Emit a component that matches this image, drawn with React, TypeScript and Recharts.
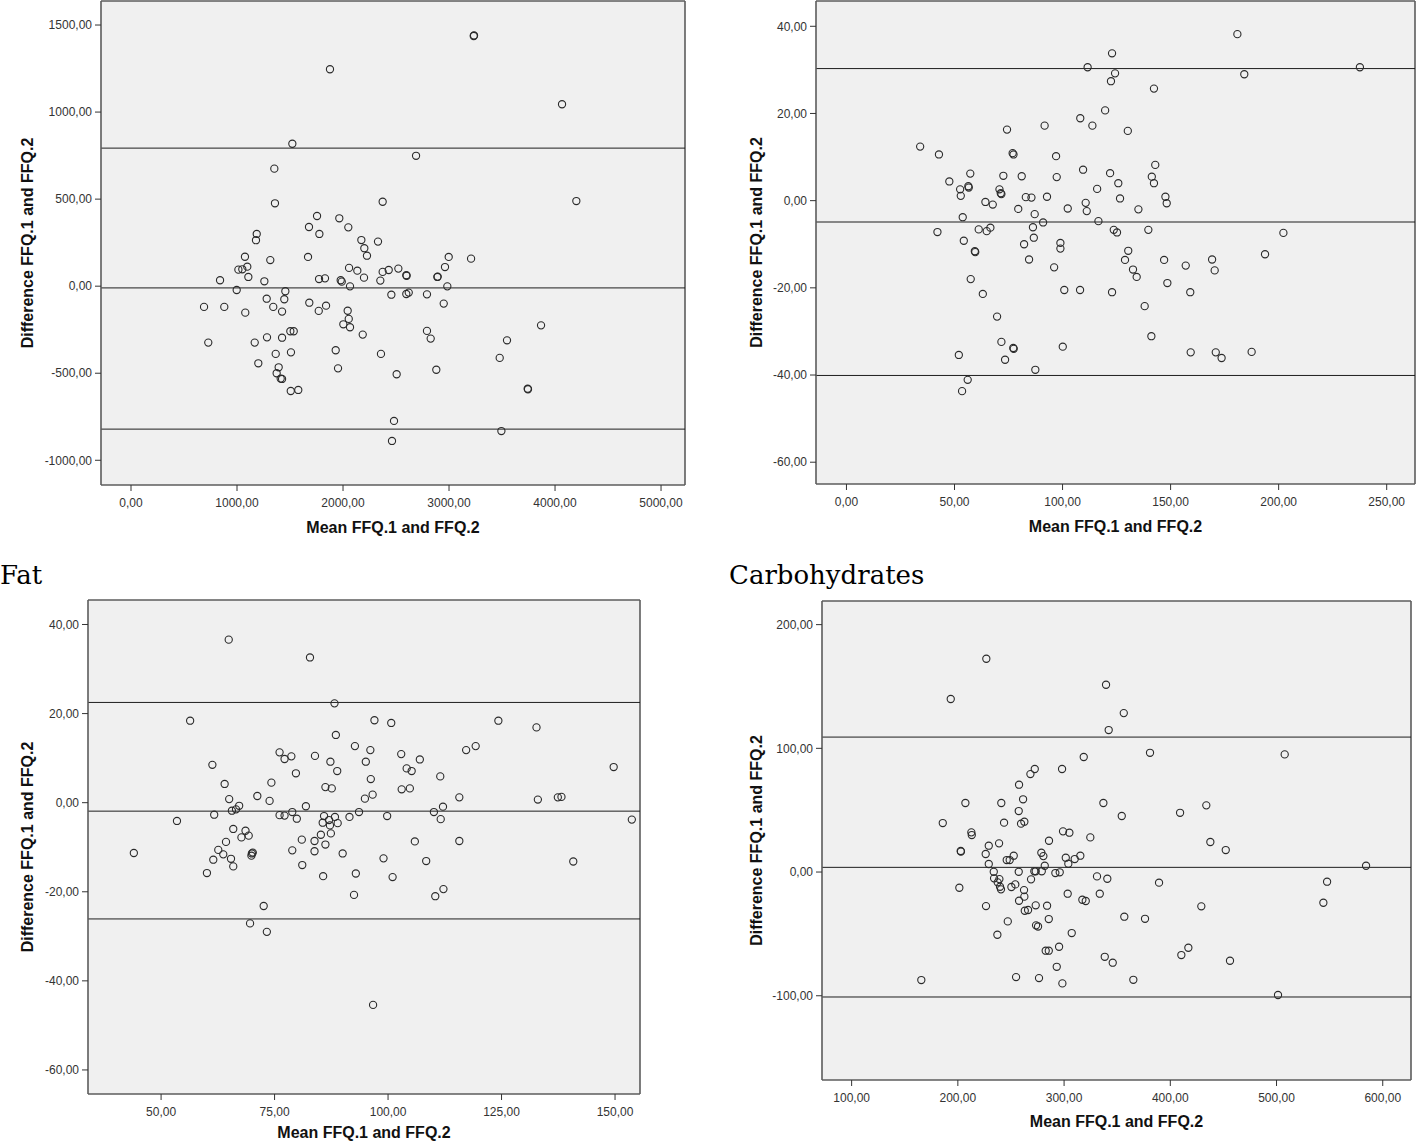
import React from "react";
import { ScatterChart, Scatter, XAxis, YAxis, CartesianGrid, ReferenceLine } from "recharts";

const axisFont = "'Liberation Sans', Arial, sans-serif";

// Energy (top left): [mean, difference]
const energyPoints: [number, number][] = [
  [1877, 1246], [1522, 818], [1352, 675], [1358, 476], [2374, 485], [1755, 403], [1679, 340], [1777, 300],
  [1965, 390], [2050, 338], [1186, 300], [1179, 264], [2173, 265], [2201, 218], [2226, 175], [2330, 256],
  [1075, 169], [1314, 150], [1670, 168], [1013, 95], [1050, 97], [1097, 112], [1107, 53], [840, 34],
  [1258, 28], [1774, 41], [1830, 45], [1978, 34], [1988, 26], [2057, 105], [2135, 89], [2198, 49],
  [2352, 32], [2374, 82], [2431, 93], [2522, 101], [997, -22], [1456, -29], [1446, -75], [1280, -72],
  [2066, -1], [2456, -49], [689, -119], [880, -119], [1078, -152], [1342, -119], [1425, -146], [1682, -95],
  [1771, -142], [1840, -112], [2044, -141], [2054, -188], [2003, -219], [2066, -236], [729, -324], [1167, -324],
  [1283, -294], [1425, -296], [1503, -259], [1535, -259], [2186, -278], [1365, -389], [1509, -380], [1201, -443],
  [1393, -466], [1374, -500], [1412, -531], [1425, -533], [1931, -368], [1953, -472], [2358, -389], [2506, -506],
  [1507, -602], [1578, -596], [2481, -774], [2462, -889],
  [3233, 1437], [3236, 1440], [4066, 1045], [2689, 749], [4201, 489], [2997, 168], [3208, 158], [2962, 110],
  [2597, 63], [2600, 60], [2890, 53], [2893, 55], [2984, -1], [2597, -45], [2620, -37], [2792, -47],
  [2950, -100], [2792, -257], [2827, -301], [3868, -225], [3547, -311], [3478, -412], [2880, -480], [3742, -589],
  [3745, -592], [3494, -832],
];
const energyLimits = [793, -10, -821];
const energyXTicks = [0, 1000, 2000, 3000, 4000, 5000];
const energyYTicks = [-1000, -500, 0, 500, 1000, 1500];

// Protein (top right)
const proteinPoints: [number, number][] = [
  [111.6, 30.6], [34.1, 12.4], [42.8, 10.6], [74.3, 16.3], [91.7, 17.2], [108.2, 18.9], [76.9, 10.9], [77.3, 10.6],
  [97.0, 10.2], [109.5, 7.1], [47.6, 4.4], [57.3, 6.2], [52.6, 2.6], [56.4, 3.3], [56.6, 3.0], [52.9, 1.1],
  [72.6, 5.7], [81.1, 5.6], [97.3, 5.4], [70.8, 2.6], [71.4, 1.7], [71.7, 1.5], [64.3, -0.3], [67.7, -0.9],
  [83.0, 0.8], [85.6, 0.7], [92.8, 0.9], [79.5, -1.9], [87.1, -3.1], [102.4, -1.8], [110.7, -0.5], [111.2, -2.4],
  [53.8, -3.8], [91.0, -5.0], [42.1, -7.2], [61.2, -6.6], [64.9, -7.0], [66.6, -6.2], [86.3, -6.1], [86.7, -8.5],
  [54.3, -9.2], [59.4, -11.6], [59.6, -11.8], [82.2, -10.0], [99.0, -9.7], [99.0, -11.0], [84.5, -13.5], [96.1, -15.3],
  [57.5, -18.0], [63.1, -21.4], [100.8, -20.5], [108.1, -20.5], [69.7, -26.6], [71.7, -32.4], [77.2, -33.8], [77.4, -34.0],
  [52.0, -35.4], [73.4, -36.5], [100.1, -33.5], [87.4, -38.8], [56.1, -41.1], [53.5, -43.7],
  [180.9, 38.2], [122.9, 33.8], [124.3, 29.2], [122.4, 27.4], [184.1, 29.0], [142.3, 25.7], [119.7, 20.7], [113.8, 17.2],
  [130.2, 16.0], [142.9, 8.2], [141.3, 5.5], [142.3, 4.0], [122.0, 6.3], [125.8, 4.0], [116.0, 2.7], [126.6, 0.5],
  [147.6, 0.9], [148.2, -0.6], [135.1, -2.0], [116.6, -4.7], [123.7, -6.7], [125.2, -7.3], [139.7, -6.7], [202.2, -7.4],
  [130.4, -11.5], [128.9, -13.6], [132.6, -15.8], [134.3, -17.5], [147.0, -13.6], [157.0, -14.9], [169.2, -13.5], [170.4, -16.0],
  [193.7, -12.3], [148.5, -18.9], [122.9, -21.0], [159.1, -21.0], [138.0, -24.2], [141.1, -31.1], [159.3, -34.8], [170.9, -34.8],
  [173.6, -36.1], [187.5, -34.7], [237.6, 30.6],
];
const proteinLimits = [30.3, -4.9, -40.1];
const proteinXTicks = [0, 50, 100, 150, 200, 250];
const proteinYTicks = [-60, -40, -20, 0, 20, 40];

// Fat (bottom left)
const fatPoints: [number, number][] = [
  [64.9, 36.6], [82.8, 32.6], [88.2, 22.3], [56.4, 18.4], [97.0, 18.5], [88.5, 15.2], [92.7, 12.7], [96.1, 11.8],
  [95.1, 9.2], [96.2, 5.3], [96.6, 1.8], [94.9, 0.9], [61.3, 8.5], [76.1, 11.3], [77.2, 9.8], [78.7, 10.4],
  [83.9, 10.5], [87.3, 9.2], [88.8, 7.1], [79.7, 6.6], [64.0, 4.2], [74.3, 4.5], [86.2, 3.5], [87.6, 3.2],
  [65.0, 0.8], [71.2, 1.5], [73.9, 0.4], [67.2, -0.7], [66.5, -1.5], [65.6, -1.8], [81.9, -0.8], [61.7, -2.7],
  [76.1, -2.8], [77.2, -2.9], [78.9, -2.1], [79.9, -3.6], [85.9, -3.0], [88.3, -3.2], [91.5, -3.2], [93.6, -2.1],
  [53.5, -4.1], [85.6, -4.5], [87.0, -3.9], [87.2, -5.1], [88.9, -4.6], [65.9, -5.9], [68.6, -6.3], [67.7, -7.8],
  [69.3, -7.4], [85.2, -7.2], [87.4, -6.9], [64.3, -8.8], [81.0, -8.3], [83.8, -8.6], [86.2, -9.4], [62.6, -10.6],
  [63.7, -11.6], [70.0, -11.4], [70.2, -11.2], [69.9, -11.9], [78.9, -10.7], [83.8, -10.9], [90.0, -11.4], [61.5, -12.8],
  [65.4, -12.6], [65.9, -14.3], [60.1, -15.8], [81.1, -14.0], [85.7, -16.5], [92.9, -15.9], [92.5, -20.7], [72.6, -23.2],
  [69.6, -27.1], [73.3, -29.0], [96.7, -45.4], [44.0, -11.3],
  [100.7, 17.9], [124.3, 18.4], [132.7, 16.9], [102.9, 10.9], [107.0, 9.7], [104.1, 7.7], [105.2, 7.1], [117.2, 11.8],
  [119.3, 12.7], [149.7, 8.0], [111.5, 5.9], [103.0, 3.0], [104.8, 3.2], [115.7, 1.2], [133.0, 0.7], [137.4, 1.2],
  [138.2, 1.3], [112.1, -0.9], [110.1, -2.1], [111.6, -3.7], [99.8, -3.0], [153.7, -3.8], [105.9, -8.7], [115.7, -8.6],
  [99.0, -12.5], [108.4, -13.1], [140.8, -13.2], [101.0, -16.7], [112.2, -19.4], [110.4, -21.0],
];
const fatLimits = [22.5, -1.9, -26.1];
const fatXTicks = [50, 75, 100, 125, 150];
const fatYTicks = [-60, -40, -20, 0, 20, 40];

// Carbohydrates (bottom right)
const carbPoints: [number, number][] = [
  [226.8, 172.4], [193.3, 139.9], [339.5, 151.4], [342.0, 114.8], [318.5, 93.0], [272.4, 83.3], [268.3, 79.2], [298.1, 83.3],
  [257.6, 70.6], [207.1, 55.8], [240.9, 55.8], [261.4, 58.8], [337.0, 55.8], [257.3, 49.3], [185.8, 39.6], [243.5, 39.9],
  [259.5, 39.1], [262.6, 40.7], [212.7, 32.1], [213.1, 29.9], [299.0, 32.9], [305.0, 31.8], [324.7, 28.0], [285.8, 25.3],
  [229.1, 21.3], [238.8, 23.2], [202.7, 17.0], [202.9, 16.5], [226.2, 14.6], [252.6, 13.2], [246.0, 9.7], [248.8, 9.7],
  [278.6, 15.6], [280.5, 12.9], [301.6, 11.6], [310.0, 10.5], [315.3, 13.2], [229.1, 6.5], [281.8, 5.1], [304.0, 6.7],
  [233.8, 0.2], [257.3, 0.2], [272.0, 0.6], [273.3, 0.6], [279.0, 0.6], [291.8, -0.8], [295.9, -0.2], [234.1, -5.1],
  [239.1, -5.7], [237.5, -8.3], [240.6, -14.0], [239.7, -11.9], [250.4, -12.1], [254.1, -10.0], [268.9, -5.9], [201.4, -12.7],
  [262.3, -14.6], [262.6, -19.9], [257.6, -23.2], [226.5, -27.5], [263.0, -31.3], [266.1, -30.7], [273.3, -26.9], [284.0, -27.2],
  [303.4, -17.5], [317.2, -22.4], [320.4, -23.4], [331.0, -3.5], [340.7, -5.4], [333.6, -17.5], [247.0, -39.9], [237.2, -50.7],
  [273.6, -43.1], [275.5, -44.0], [285.6, -38.0], [307.2, -49.3], [282.7, -63.6], [285.6, -63.6], [295.3, -60.4], [293.1, -76.6],
  [338.3, -68.5], [345.8, -73.3], [165.6, -87.3], [254.8, -84.9], [276.4, -85.7], [298.4, -90.0],
  [356.2, 128.5], [380.9, 96.4], [507.7, 95.1], [354.3, 45.3], [409.2, 47.9], [433.9, 53.9], [437.7, 24.3], [452.2, 17.8],
  [584.3, 5.1], [389.4, -8.6], [547.6, -7.8], [544.1, -24.8], [429.2, -27.7], [356.7, -36.1], [376.2, -37.8], [365.2, -87.1],
  [410.4, -67.1], [417.0, -61.2], [456.2, -71.7], [501.4, -99.4],
];
const carbLimits = [109.1, 3.8, -101];
const carbXTicks = [100, 200, 300, 400, 500, 600];
const carbYTicks = [-100, 0, 100, 200];

const fmt = (v: number) => v.toFixed(2).replace(".", ",");

const renderDot = (p: any) => (
  <circle cx={p.cx} cy={p.cy} r={3.6} fill="none" stroke="#2a2a2a" strokeWidth={1.1} />
);

type PanelProps = {
  left: number;
  top: number;
  width: number;
  height: number;
  margin: { top: number; right: number; bottom: number; left: number };
  yAxisWidth: number;
  xAxisHeight: number;
  xDomain: [number, number];
  yDomain: [number, number];
  xTicks: number[];
  yTicks: number[];
  points: [number, number][];
  limits: number[];
  yLabelDx: number;
  xLabelDy: number;
};

function BlandAltman(props: PanelProps) {
  const data = props.points.map(([x, y]) => ({ x, y }));
  const tick = { fontSize: 12, fill: "#333", fontFamily: axisFont };
  const border = { stroke: "#5c5c5c", strokeWidth: 1.6 };
  return (
    <div style={{ position: "absolute", left: props.left, top: props.top }}>
      <ScatterChart width={props.width} height={props.height} margin={props.margin}>
        <CartesianGrid horizontal={false} vertical={false} fill="#f0f0f0" fillOpacity={1} />
        <XAxis
          type="number"
          dataKey="x"
          domain={props.xDomain}
          ticks={props.xTicks}
          interval={0}
          allowDataOverflow
          height={props.xAxisHeight}
          tickFormatter={fmt}
          tick={tick}
          tickSize={6}
          tickMargin={7}
          tickLine={{ stroke: "#333" }}
          axisLine={border}
          label={{
            value: "Mean FFQ.1 and FFQ.2",
            position: "center",
            dy: props.xLabelDy,
            fontSize: 16,
            fontWeight: "bold",
            fill: "#111",
            fontFamily: axisFont,
          }}
        />
        <YAxis
          type="number"
          dataKey="y"
          domain={props.yDomain}
          ticks={props.yTicks}
          interval={0}
          allowDataOverflow
          width={props.yAxisWidth}
          tickFormatter={fmt}
          tick={tick}
          tickSize={6}
          tickMargin={3}
          tickLine={{ stroke: "#333" }}
          axisLine={border}
          label={{
            value: "Difference FFQ.1 and FFQ.2",
            angle: -90,
            position: "center",
            dx: props.yLabelDx,
            fontSize: 16,
            fontWeight: "bold",
            fill: "#111",
            fontFamily: axisFont,
          }}
        />
        <ReferenceLine y={props.yDomain[1]} {...border} />
        <ReferenceLine x={props.xDomain[1]} {...border} />
        {props.limits.map((v) => (
          <ReferenceLine key={v} y={v} stroke="#1e1e1e" strokeWidth={1} />
        ))}
        <Scatter data={data} isAnimationActive={false} shape={renderDot} />
      </ScatterChart>
    </div>
  );
}

const titleStyle: React.CSSProperties = {
  position: "absolute",
  fontFamily: "'DejaVu Serif', serif",
  fontSize: 26,
  lineHeight: "26px",
  color: "#000",
  whiteSpace: "nowrap",
};

export default function App() {
  return (
    <div style={{ position: "absolute", left: 0, top: 0, width: 1418, height: 1143, background: "#fff", overflow: "hidden" }}>
      <BlandAltman
        left={0}
        top={0}
        width={700}
        height={545}
        margin={{ top: 1, right: 15, bottom: 0, left: 0 }}
        yAxisWidth={101}
        xAxisHeight={60}
        xDomain={[-283, 5226]}
        yDomain={[-1142, 1638]}
        xTicks={energyXTicks}
        yTicks={energyYTicks}
        points={energyPoints}
        limits={energyLimits}
        yLabelDx={-23.5}
        xLabelDy={12}
      />
      <BlandAltman
        left={720}
        top={0}
        width={698}
        height={545}
        margin={{ top: 1, right: 3, bottom: 0, left: 0 }}
        yAxisWidth={96}
        xAxisHeight={61}
        xDomain={[-14.1, 263.1]}
        yDomain={[-65.0, 45.8]}
        xTicks={proteinXTicks}
        yTicks={proteinYTicks}
        points={proteinPoints}
        limits={proteinLimits}
        yLabelDx={-12}
        xLabelDy={12}
      />
      <div style={{ ...titleStyle, left: 0, top: 562 }}>Fat</div>
      <div style={{ ...titleStyle, left: 729, top: 562 }}>Carbohydrates</div>
      <BlandAltman
        left={0}
        top={599}
        width={700}
        height={544}
        margin={{ top: 1, right: 60, bottom: 0, left: 0 }}
        yAxisWidth={88}
        xAxisHeight={49}
        xDomain={[33.9, 155.5]}
        yDomain={[-65.4, 45.5]}
        xTicks={fatXTicks}
        yTicks={fatYTicks}
        points={fatPoints}
        limits={fatLimits}
        yLabelDx={-17}
        xLabelDy={14}
      />
      <BlandAltman
        left={720}
        top={600}
        width={698}
        height={543}
        margin={{ top: 1, right: 7, bottom: 0, left: 0 }}
        yAxisWidth={102}
        xAxisHeight={63}
        xDomain={[72.1, 626.6]}
        yDomain={[-168.1, 219.1]}
        xTicks={carbXTicks}
        yTicks={carbYTicks}
        points={carbPoints}
        limits={carbLimits}
        yLabelDx={-15}
        xLabelDy={10.2}
      />
    </div>
  );
}
